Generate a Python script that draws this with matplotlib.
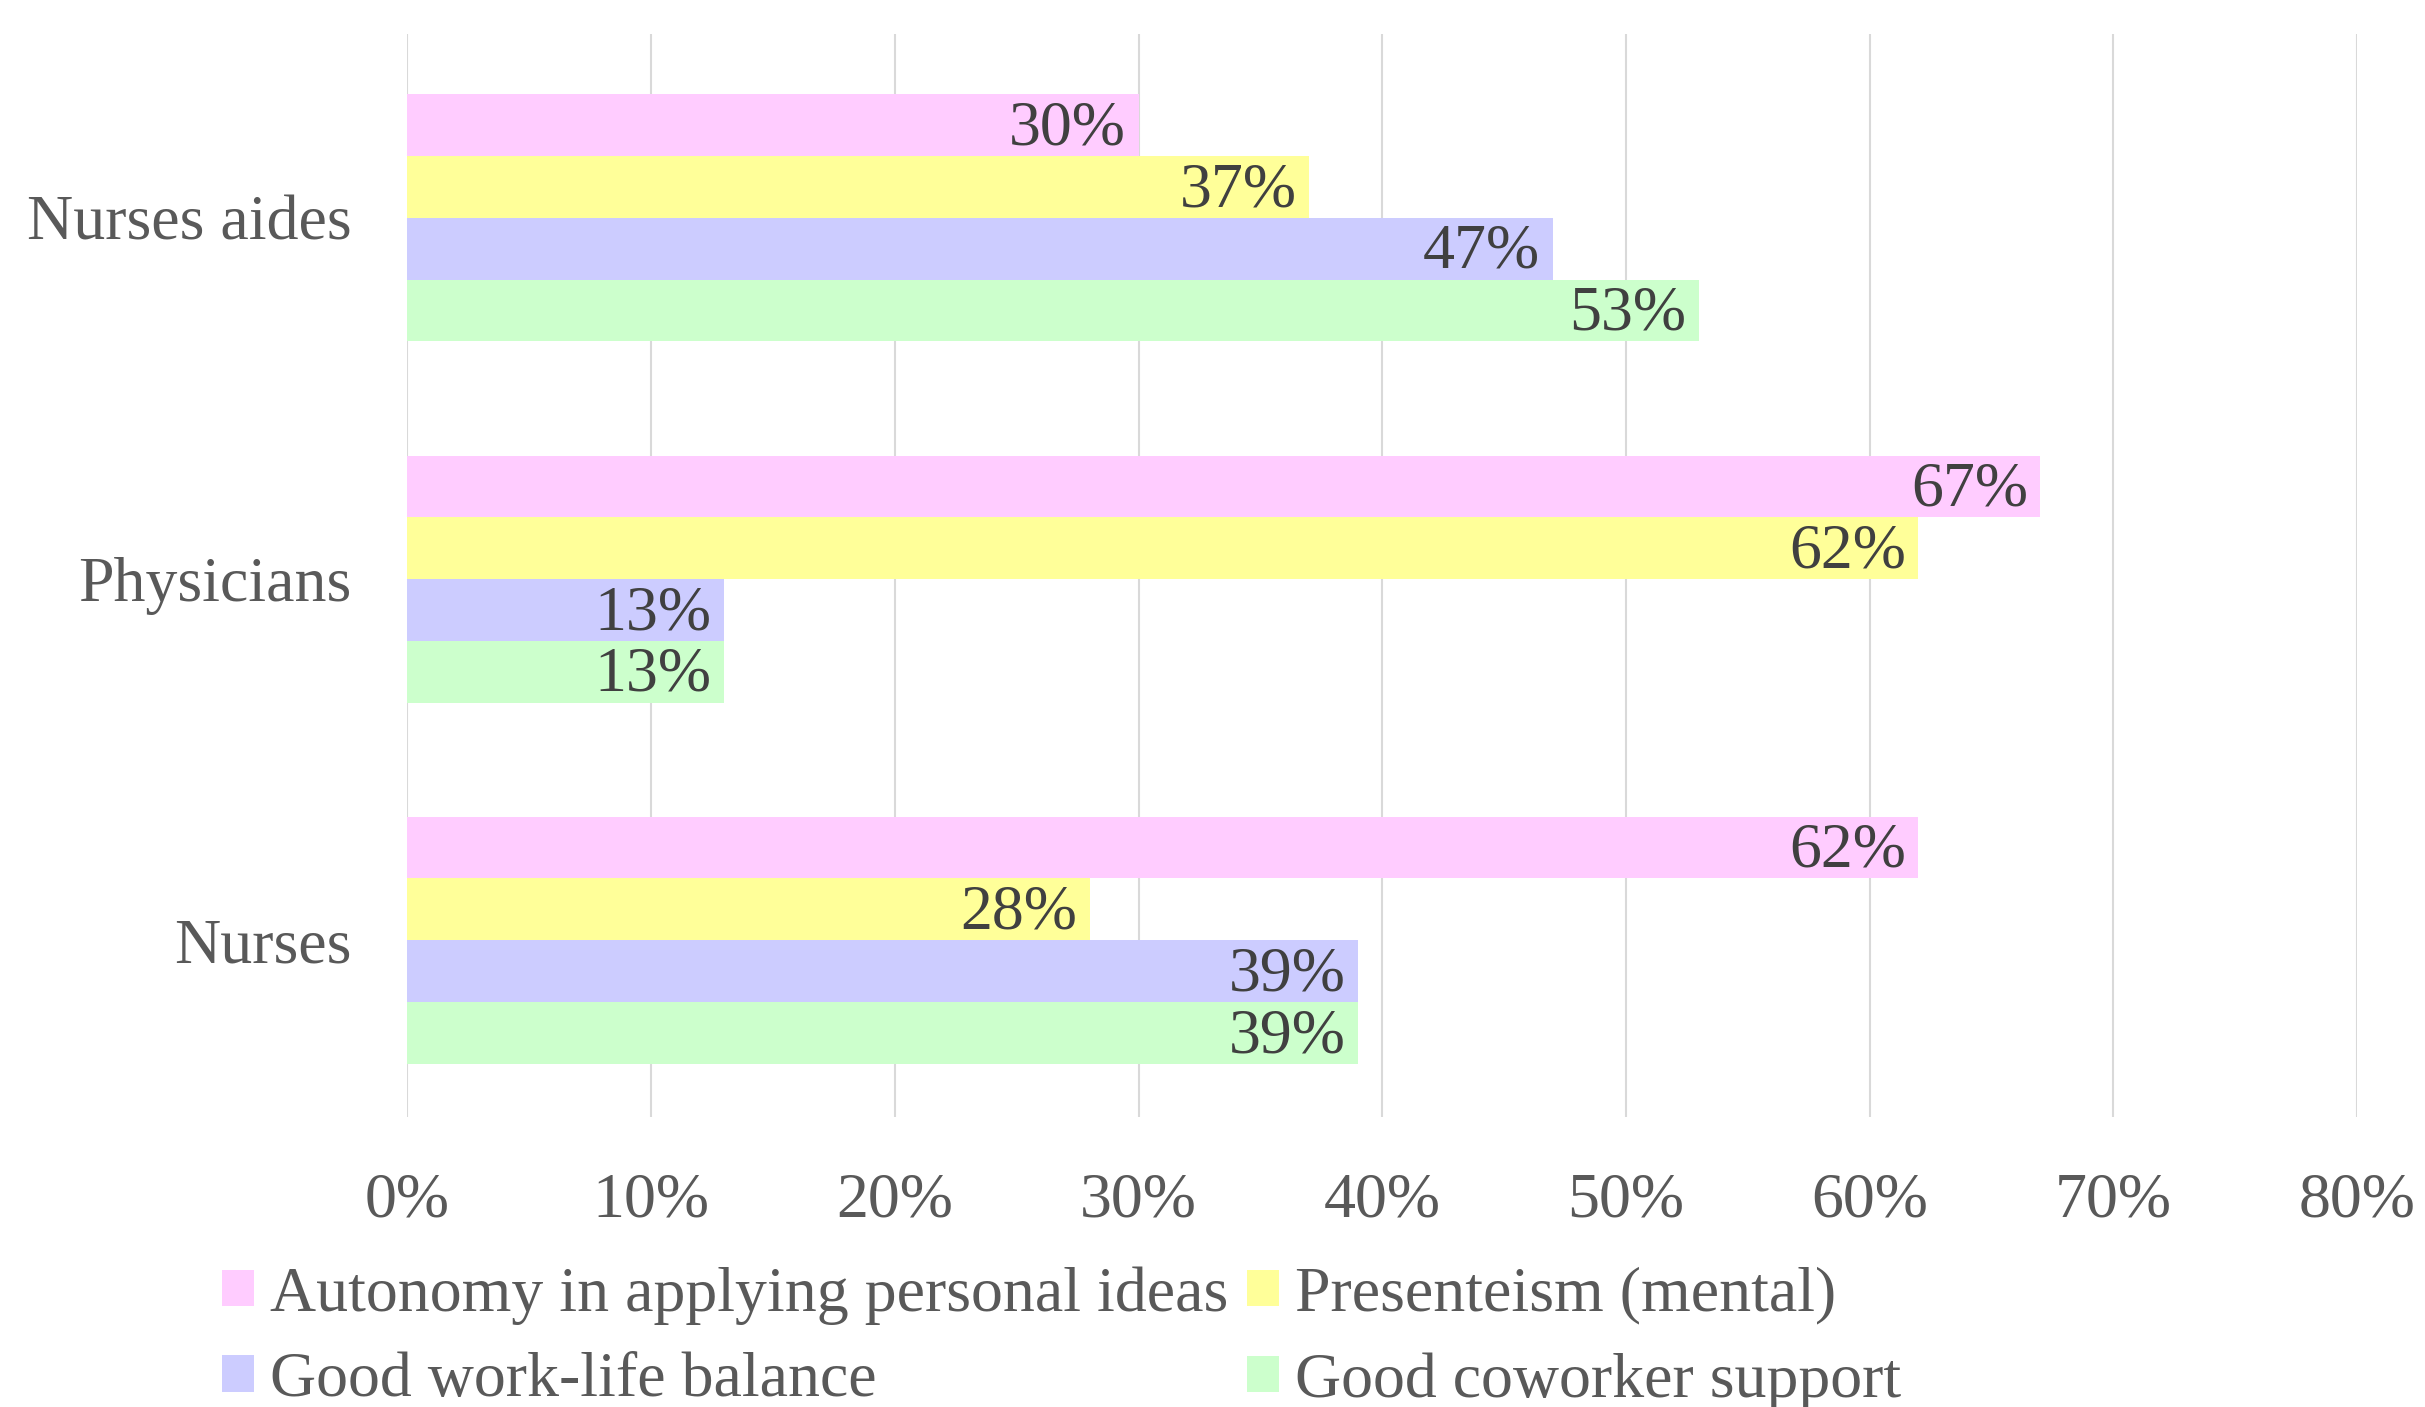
import matplotlib
matplotlib.use("Agg")
import matplotlib.pyplot as plt
import numpy as np
from matplotlib.patches import Patch

categories = ["Nurses", "Physicians", "Nurses aides"]
series_names = ["Autonomy in applying personal ideas", "Presenteism (mental)",
                "Good work-life balance", "Good coworker support"]
autonomy = [62, 67, 30]
presenteism = [28, 62, 37]
worklife = [39, 13, 47]
coworker = [39, 13, 53]
x_ticks = [0, 10, 20, 30, 40, 50, 60, 70, 80]
x_tick_labels = ["0%", "10%", "20%", "30%", "40%", "50%", "60%", "70%", "80%"]
colors = ["#FFCCFF", "#FFFF99", "#CCCCFF", "#CCFFCC"]

plt.rcParams['font.family'] = ['Liberation Serif', 'DejaVu Serif']
FS = 46

fig = plt.figure(figsize=(24.25, 14.07), dpi=100)
ax = fig.add_axes([0.168, 0.206, 0.804, 0.770])

series = [autonomy, presenteism, worklife, coworker]
h = 0.171
y = np.arange(len(categories))
offsets = [1.5 * h, 0.5 * h, -0.5 * h, -1.5 * h]
for vals, off, c in zip(series, offsets, colors):
    bars = ax.barh(y + off, vals, height=h, color=c, zorder=2)
    for b, v in zip(bars, vals):
        ax.annotate(f"{v}%", xy=(b.get_width(), b.get_y() + b.get_height() / 2),
                    xytext=(-9, -3), textcoords="offset points",
                    ha="right", va="center", fontsize=FS, color="#404040", zorder=3)

ax.set_xlim(0, 80)
ax.set_ylim(-0.49, 2.51)
ax.set_xticks(x_ticks)
ax.set_xticklabels(x_tick_labels)
ax.set_yticks(y)
ax.set_yticklabels(categories)
ax.tick_params(axis='both', length=0, labelsize=FS, colors="#595959")
ax.tick_params(axis='x', pad=40)
ax.tick_params(axis='y', pad=40)
ax.grid(axis='x', color="#D9D9D9", linewidth=1.5, zorder=0)
ax.set_axisbelow(True)
for s in ax.spines.values():
    s.set_visible(False)

order = [0, 2, 1, 3]
handles = [Patch(facecolor=colors[i], edgecolor='none') for i in order]
labels = [series_names[i] for i in order]
leg = fig.legend(handles, labels, loc='upper left', bbox_to_anchor=(0.0915, 0.1),
                 ncol=2, frameon=False, fontsize=FS, handlelength=0.5, handleheight=0.5,
                 handletextpad=0.25, columnspacing=0.3, labelspacing=0.43,
                 borderaxespad=0, borderpad=0)
for t in leg.get_texts():
    t.set_color("#595959")

fig.savefig("out.png", dpi=100)
